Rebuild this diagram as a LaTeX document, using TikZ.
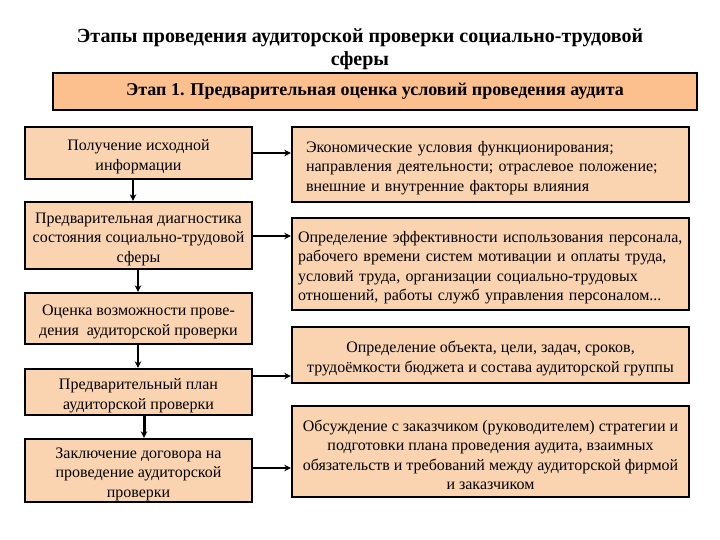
\documentclass[tikz,border=0pt]{standalone}
\usepackage{fontspec}
\setmainfont{Liberation Serif}
\usetikzlibrary{arrows.meta}
\definecolor{boxfill}{HTML}{FAD3B0}
\definecolor{topfill}{HTML}{FBC08E}
\tikzset{
  box/.style={draw=black, line width=2.4pt, fill=boxfill, inner sep=0pt},
  txt/.style={inner sep=0pt, yshift=-3.5pt, font=\fontsize{16}{19.5}\selectfont},
  topbox/.style={draw=black, line width=2.4pt, fill=topfill, inner sep=0pt, font=\fontsize{18}{21}\selectfont\bfseries},
  arr/.style={line width=2pt, -{Stealth[length=6.5pt,width=6.5pt]}}
}
\begin{document}
\begin{tikzpicture}[x=1pt,y=1pt]
\useasboundingbox (0,0) rectangle (720,-540);
% title
\node[font=\fontsize{20}{23}\selectfont\bfseries, align=center] (title) at (360,-49)
  {Этапы проведения аудиторской проверки социально-трудовой\\сферы};
\node[topbox, minimum width=644, minimum height=37] (top) at (375,-91.5)
  {Этап 1. Предварительная оценка условий проведения аудита};
% left column
\node[box, minimum width=227, minimum height=52] (l1) at (138.5,-153) {};
\node[txt, align=center] (l1t) at (l1.center) {Получение исходной\\информации};
\node[box, minimum width=227, minimum height=67] (l2) at (138.5,-235.5) {};
\node[txt, align=center] (l2t) at (l2.center) {Предварительная диагностика\\состояния социально-трудовой\\сферы};
\node[box, minimum width=227, minimum height=51] (l3) at (138.5,-318.5) {};
\node[txt, align=center] (l3t) at (l3.center) {Оценка возможности прове-\\дения~ аудиторской проверки};
\node[box, minimum width=227, minimum height=46] (l4) at (138.5,-392) {};
\node[txt, align=center] (l4t) at (l4.center) {Предварительный план\\аудиторской проверки};
\node[box, minimum width=227, minimum height=63] (l5) at (138.5,-470.5) {};
\node[txt, align=center] (l5t) at (l5.center) {Заключение договора на\\проведение аудиторской\\проверки};
% right column
\node[box, minimum width=397, minimum height=75] (r1) at (490.5,-164.5) {};
\node[txt, text width=369, align=left, xshift=0pt] (r1t) at (r1.center)
  {Экономические условия функционирования;\\направления деятельности; отраслевое положение;\\внешние и внутренние факторы влияния};
\node[box, minimum width=397, minimum height=92] (r2) at (490.5,-264) {};
\node[txt, text width=385, align=left] (r2t) at (r2.center)
  {Определение эффективности использования персонала,\\рабочего времени систем мотивации и оплаты труда,\\условий труда, организации социально-трудовых\\отношений, работы служб управления персоналом...};
\node[box, minimum width=397, minimum height=56] (r3) at (490.5,-355) {};
\node[txt, align=center] (r3t) at (r3.center)
  {Определение объекта, цели, задач, сроков,\\трудоёмкости бюджета и состава аудиторской группы};
\node[box, minimum width=397, minimum height=91] (r4) at (490.5,-451.5) {};
\node[txt, align=center] (r4t) at (r4.center)
  {Обсуждение с заказчиком (руководителем) стратегии и\\подготовки плана проведения аудита, взаимных\\обязательств и требований между аудиторской фирмой\\и заказчиком};
% vertical arrows
\draw[arr] (l1.south -| 133,0) -- (l2.north -| 133,0);
\draw[arr] (l2.south -| 138,0) -- (l3.north -| 138,0);
\draw[arr] (l3.south -| 138,0) -- (l4.north -| 138,0);
\draw[arr, line width=3pt] (l4.south -| 144,0) -- (l5.north -| 144,0);
% horizontal arrows
\draw[arr] (l1.east |- 0,-153) -- (r1.west |- 0,-153);
\draw[arr] (l2.east |- 0,-236) -- (r2.west |- 0,-236);
\draw[arr] (l4.east |- 0,-376) -- (r3.west |- 0,-376);
\draw[arr] (l5.east |- 0,-468) -- (r4.west |- 0,-468);
\end{tikzpicture}
\end{document}
